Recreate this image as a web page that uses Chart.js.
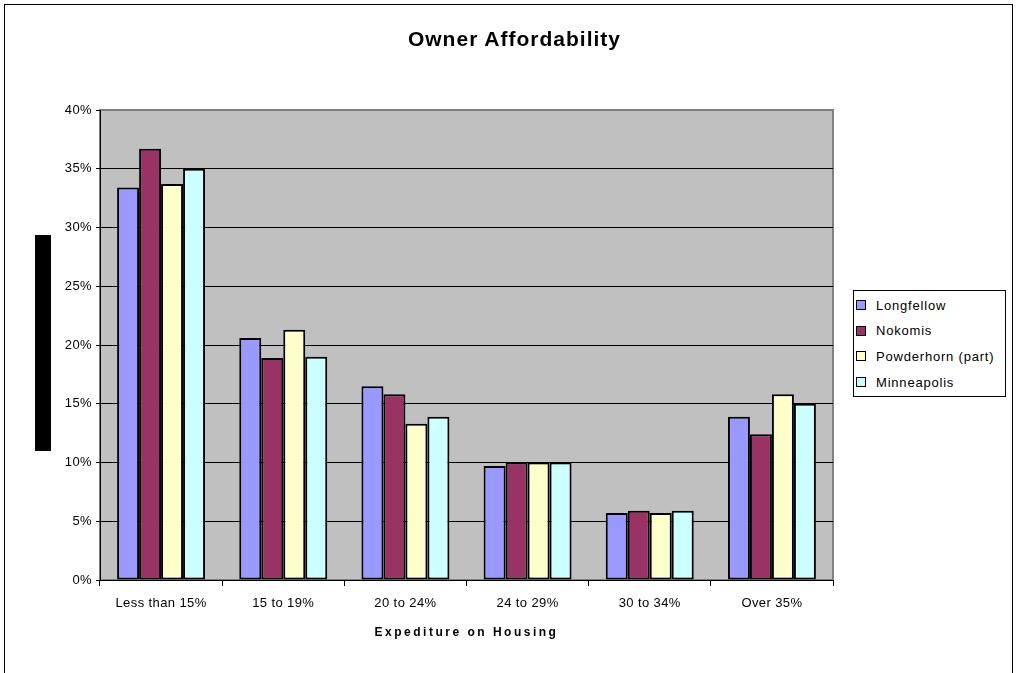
<!DOCTYPE html>
<html>
<head>
<meta charset="utf-8">
<script src="https://cdn.jsdelivr.net/npm/chart.js@4/dist/chart.umd.min.js"></script>
<style>
  body { margin: 0; background: #fff; font-family: Arial, "Liberation Sans", sans-serif; }
  #wrap { position: relative; width: 1017px; height: 673px; overflow: hidden; }
  #frame { position: absolute; left: 4px; top: 4px; width: 1007px; height: 720px; border: 1px solid #000; }
  #chart { position: absolute; left: 0; top: 0; }
  #title { position: absolute; top: 27px; left: 0; width: 1029px; text-align: center;
           font: bold 21px Arial, "Liberation Sans", sans-serif; letter-spacing: 1px; }
  #xtitle { position: absolute; top: 625px; left: 100px; width: 733px; text-align: center;
            font: bold 12px Arial, "Liberation Sans", sans-serif; letter-spacing: 2.5px; }
  #ytitle { position: absolute; left: 35px; top: 235px; width: 16px; height: 216px; background: #000; }
  #legend { position: absolute; left: 853px; top: 290px; width: 153px; height: 107px;
            border: 1px solid #000; box-sizing: border-box; background: #fff;
            font: 13px Arial, "Liberation Sans", sans-serif; letter-spacing: 0.8px; }
  .item { position: absolute; left: 2px; height: 16px; display: flex; align-items: center; }
  .sw { width: 8px; height: 8px; border: 1px solid #000; margin-right: 10px; }
</style>
</head>
<body>
<div id="wrap">
  <div id="frame"></div>
  <canvas id="chart" width="1017" height="673"></canvas>
  <div id="title">Owner Affordability</div>
  <div id="xtitle">Expediture on Housing</div>
  <div id="ytitle"></div>
  <div id="legend"></div>
</div>
<script>
const categories = ['Less than 15%', '15 to 19%', '20 to 24%', '24 to 29%', '30 to 34%', 'Over 35%'];
const seriesNames = ['Longfellow', 'Nokomis', 'Powderhorn (part)', 'Minneapolis'];
const longfellow = [33.4, 20.6, 16.5, 9.7, 5.7, 13.9];
const nokomis = [36.7, 18.9, 15.8, 10.0, 5.9, 12.4];
const powderhorn = [33.7, 21.3, 13.3, 10.0, 5.7, 15.8];
const minneapolis = [35.0, 19.0, 13.9, 10.0, 5.9, 15.0];
const colors = ['#9999FF', '#993366', '#FFFFCC', '#CCFFFF'];
const yTicks = [0, 5, 10, 15, 20, 25, 30, 35, 40];

const seriesData = [longfellow, nokomis, powderhorn, minneapolis];

// grey plot area like the old Excel chart
const plotBg = {
    id: 'plotBg',
    beforeDraw(chart) {
        const a = chart.chartArea;
        const ctx = chart.ctx;
        ctx.letterSpacing = '0.4px';
        ctx.save();
        ctx.fillStyle = '#C0C0C0';
        ctx.fillRect(a.left, a.top, a.right - a.left, a.bottom - a.top);
        ctx.strokeStyle = '#808080';
        ctx.lineWidth = 2;
        ctx.strokeRect(a.left, a.top, a.right - a.left, a.bottom - a.top);
        ctx.restore();
    }
};

new Chart(document.getElementById('chart').getContext('2d'), {
    type: 'bar',
    data: {
        labels: categories,
        datasets: seriesData.map((d, i) => ({
            label: seriesNames[i],
            data: d,
            backgroundColor: colors[i],
            borderColor: '#000',
            borderWidth: 2,
            borderSkipped: false
        }))
    },
    options: {
        responsive: false,
        animation: false,
        devicePixelRatio: 1,
        categoryPercentage: 0.72,
        barPercentage: 1,
        layout: { padding: { top: 110, right: 184, left: 0, bottom: 0 } },
        plugins: {
            legend: { display: false },
            tooltip: { enabled: false },
            title: { display: false }
        },
        scales: {
            x: {
                afterFit: s => { s.height = 93; },
                grid: { offset: true, drawOnChartArea: false, drawTicks: true, tickLength: 6, color: '#000', lineWidth: 1 },
                border: { color: '#000', width: 1 },
                ticks: { color: '#000', padding: 10, maxRotation: 0, font: { family: 'Arial', size: 13 } }
            },
            y: {
                min: 0,
                max: 40,
                afterFit: s => { s.width = 100; },
                afterBuildTicks: s => { s.ticks = yTicks.map(v => ({ value: v })); },
                grid: {
                    color: c => (c.tick && c.tick.value === 40 ? '#808080' : '#000'),
                    tickColor: '#000',
                    tickLength: 4,
                    lineWidth: 1
                },
                border: { color: '#000', width: 1 },
                ticks: {
                    color: '#000',
                    padding: 4,
                    font: { family: 'Arial', size: 13 },
                    callback: v => v + '%'
                }
            }
        }
    },
    plugins: [plotBg]
});

// legend box on the right
const legend = document.getElementById('legend');
seriesNames.forEach((name, i) => {
    const item = document.createElement('div');
    item.className = 'item';
    item.style.top = (6 + i * 25.7) + 'px';
    const sw = document.createElement('span');
    sw.className = 'sw';
    sw.style.background = colors[i];
    const txt = document.createElement('span');
    txt.textContent = name;
    item.appendChild(sw);
    item.appendChild(txt);
    legend.appendChild(item);
});
</script>
</body>
</html>
